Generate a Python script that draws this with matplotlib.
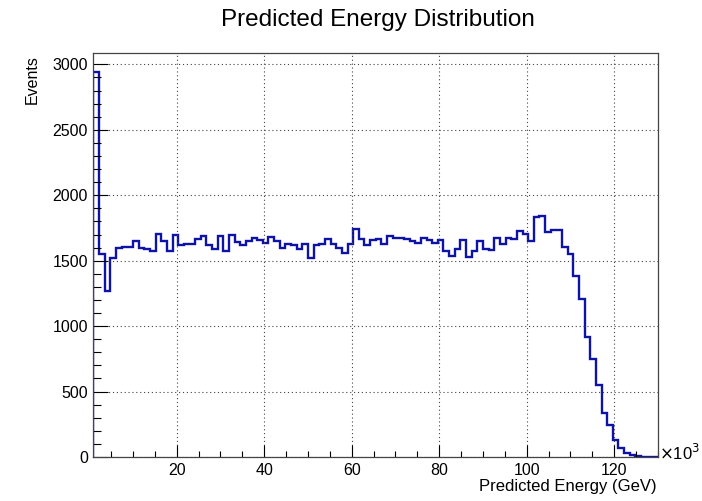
import numpy as np
import matplotlib
matplotlib.use("Agg")
import matplotlib.pyplot as plt
from matplotlib.ticker import MultipleLocator, FuncFormatter

plt.rcParams['font.family'] = ['Liberation Sans', 'DejaVu Sans']

# Histogram: 100 bins of predicted energy (x10^3 GeV)
x_min, x_max, n_bins = 1.0, 130.0, 100
counts = [
    2940, 1553, 1270, 1520, 1597, 1601, 1605, 1648, 1597, 1589,
    1574, 1701, 1653, 1576, 1693, 1622, 1627, 1630, 1668, 1686,
    1622, 1589, 1691, 1576, 1699, 1640, 1622, 1653, 1670, 1658,
    1637, 1681, 1653, 1594, 1630, 1617, 1591, 1627, 1520, 1622,
    1625, 1663, 1627, 1599, 1556, 1627, 1742, 1666, 1617, 1655,
    1663, 1630, 1686, 1676, 1670, 1663, 1650, 1635, 1673, 1658,
    1635, 1655, 1576, 1533, 1591, 1660, 1528, 1571, 1653, 1589,
    1581, 1673, 1630, 1670, 1668, 1724, 1704, 1648, 1831, 1839,
    1719, 1737, 1737, 1606, 1548, 1380, 1209, 918, 747, 553,
    336, 248, 132, 66, 33, 13, 8, 3, 1, 0,
]
title = "Predicted Energy Distribution"
x_label = "Predicted Energy (GeV)"
y_label = "Events"

edges = np.linspace(x_min, x_max, n_bins + 1)

fig = plt.figure(figsize=(7.02, 5.01), dpi=100)
ax = fig.add_axes([93.5 / 702, 1 - 457 / 501, (658 - 93.5) / 702, (457 - 53) / 501])

ax.stairs(counts, edges, color='#0e12a6', linewidth=1.7, baseline=0, fill=False)

ax.set_xlim(x_min, x_max)
ax.set_ylim(0, max(counts) * 1.05)

ax.xaxis.set_major_locator(MultipleLocator(20))
ax.xaxis.set_minor_locator(MultipleLocator(5))
ax.yaxis.set_major_locator(MultipleLocator(500))
ax.yaxis.set_minor_locator(MultipleLocator(100))
ax.yaxis.set_major_formatter(FuncFormatter(lambda v, p: f"{int(v)}"))

ax.grid(True, which='major', linestyle=(0, (1, 2.5)), color='#444444', linewidth=0.8)
ax.tick_params(axis='both', which='both', direction='in', top=False, right=False,
               labelsize=11.5, colors='black')
ax.tick_params(axis='x', which='major', length=8.5, width=0.8, pad=4)
ax.tick_params(axis='x', which='minor', length=4.3, width=0.8)
ax.tick_params(axis='y', which='major', length=10.5, width=0.8, pad=4)
ax.tick_params(axis='y', which='minor', length=5.5, width=0.8)
for s in ax.spines.values():
    s.set_color('#444444')
    s.set_linewidth(0.9)

fig.text(377.5 / 702, 1 - 20 / 501, title, ha='center', va='center', fontsize=17.5)
fig.text(657 / 702, 1 - 486 / 501, x_label, ha='right', va='center', fontsize=12)
fig.text(32 / 702, 1 - 55 / 501, y_label, ha='center', va='top', rotation=90, fontsize=11.5)
fig.text(659 / 702, 1 - 453 / 501, r"$\times$10$^3$", ha='left', va='center', fontsize=12)

fig.savefig("out.png", dpi=100)
